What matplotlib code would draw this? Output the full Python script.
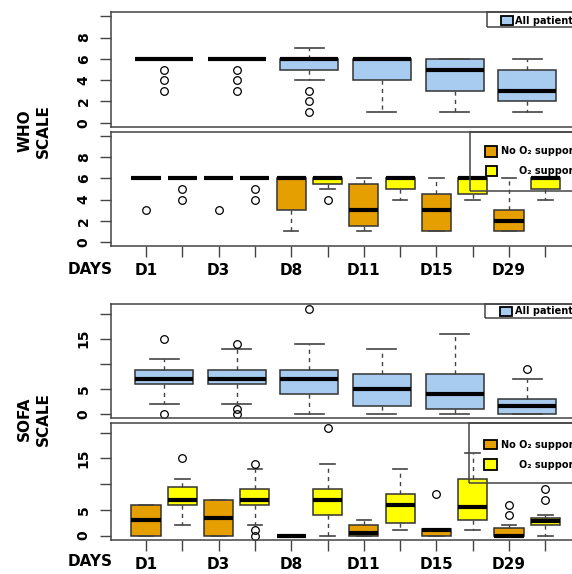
import matplotlib
matplotlib.use("Agg")
import matplotlib.pyplot as plt
from matplotlib.patches import Rectangle
import numpy as np

W, H = 572, 574

days = ["D1", "D3", "D8", "D11", "D15", "D29"]

# WHO scale, all patients
who_all_lo = [6, 6, 4, 1, 1, 1]
who_all_q1 = [6, 6, 5, 4, 3, 2]
who_all_med = [6, 6, 6, 6, 5, 3]
who_all_q3 = [6, 6, 6, 6, 6, 5]
who_all_hi = [6, 6, 7, 6, 6, 6]
who_all_fl = [[5, 4, 3], [5, 4, 3], [3, 2, 1], [], [], []]

# WHO scale, no O2 support
who_no_lo = [6, 6, 1, 1, 1, 1]
who_no_q1 = [6, 6, 3, 1.5, 1, 1]
who_no_med = [6, 6, 6, 3, 3, 2]
who_no_q3 = [6, 6, 6, 5.5, 4.5, 3]
who_no_hi = [6, 6, 6, 6, 6, 6]
who_no_fl = [[3], [3], [], [], [], []]

# WHO scale, O2 support
who_o2_lo = [6, 6, 5, 4, 4, 4]
who_o2_q1 = [6, 6, 5.5, 5, 4.5, 5]
who_o2_med = [6, 6, 6, 6, 6, 6]
who_o2_q3 = [6, 6, 6, 6, 6, 6]
who_o2_hi = [6, 6, 6, 6, 6, 6]
who_o2_fl = [[5, 4], [5, 4], [4], [], [], []]

# SOFA scale, all patients
sofa_all_lo = [2, 2, 0, 0, 0, 0]
sofa_all_q1 = [6, 6, 4, 1.5, 1, 0]
sofa_all_med = [7, 7, 7, 5, 4, 1.5]
sofa_all_q3 = [8.75, 8.75, 8.75, 8, 8, 3]
sofa_all_hi = [11, 13, 14, 13, 16, 7]
sofa_all_fl = [[15, 0], [14, 1, 0], [21], [], [], [9]]

# SOFA scale, no O2 support
sofa_no_lo = [0, 0, 0, 0, 0, 0]
sofa_no_q1 = [0, 0, 0, 0, 0, 0]
sofa_no_med = [3, 3.5, 0, 0.5, 1, 0]
sofa_no_q3 = [6, 7, 0, 2, 1.25, 1.5]
sofa_no_hi = [6, 7, 0, 3, 1.25, 2]
sofa_no_fl = [[], [], [], [], [8], [6, 4]]

# SOFA scale, O2 support
sofa_o2_lo = [2, 2, 0, 1, 1, 0]
sofa_o2_q1 = [6, 6, 4, 2.5, 3, 2]
sofa_o2_med = [7, 7, 7, 6, 5.6, 2.8]
sofa_o2_q3 = [9.5, 9, 9, 8, 11, 3.45]
sofa_o2_hi = [11, 13, 14, 13, 16, 4]
sofa_o2_fl = [[15], [14, 1, 0], [21], [], [], [9, 7]]

who_ticks = [0, 2, 4, 6, 8, 10]
who_labels = ["0", "2", "4", "6", "8", ""]
sofa_ticks = [0, 5, 10, 15, 20]
sofa_labels = ["0", "5", "", "15", ""]

BLUE = "#A8CBF0"
ORANGE = "#E69F00"
YELLOW = "#FFFF00"
FRAME = "#444444"


def fx(x):
    return x / W


def fy(y):
    return 1 - y / H


def make_stats(lo, q1, med, q3, hi, fl):
    return [dict(whislo=a, q1=b, med=c, q3=d, whishi=e, fliers=f)
            for a, b, c, d, e, f in zip(lo, q1, med, q3, hi, fl)]


def draw(ax, st, pos, width, color):
    ax.bxp(st, positions=pos, widths=width, patch_artist=True,
           boxprops=dict(facecolor=color, edgecolor="#333333", linewidth=1.1),
           medianprops=dict(color="black", linewidth=3, solid_capstyle="butt"),
           whiskerprops=dict(color="#444444", linewidth=1, linestyle=(0, (3, 3))),
           capprops=dict(color="#444444", linewidth=1.2),
           flierprops=dict(marker="o", markersize=5.5, markerfacecolor="none",
                           markeredgecolor="black", markeredgewidth=0.9))


def panel(top, bottom):
    left, right = 111, 590
    ax = fig.add_axes([fx(left), fy(bottom), (right - left) / W, (bottom - top) / H])
    unit = 36.3
    x0 = 1 - (146 - left) / unit
    ax.set_xlim(x0, x0 + (right - left) / unit)
    for s in ax.spines.values():
        s.set_color(FRAME)
        s.set_linewidth(1.1)
    ax.tick_params(direction="out", length=8, width=1, color=FRAME)
    ax.tick_params(axis="y", pad=6.5)
    return ax


def yaxis(ax, ticks, labels, lim):
    ax.set_ylim(*lim)
    ax.set_yticks(ticks)
    ax.set_yticklabels(labels, rotation=90, va="center", ha="right",
                       fontsize=10, fontweight="bold")


def xaxis(ax):
    pos = np.arange(1, 2 * len(days) + 1)
    ax.set_xticks(pos)
    lab = []
    for i in range(len(pos)):
        lab.append(days[i // 2] if i % 2 == 0 else "")
    ax.set_xticklabels(lab, fontsize=11, fontweight="bold")
    ax.tick_params(axis="x", pad=4.5)


def legend_box(x0, y0, x1, y1):
    fig.add_artist(Rectangle((fx(x0), fy(y1)), fx(x1) - fx(x0), fy(y0) - fy(y1),
                             transform=fig.transFigure, fill=False,
                             edgecolor=FRAME, linewidth=1.1))


def legend_patch(x0, y0, x1, y1, color):
    fig.add_artist(Rectangle((fx(x0), fy(y1)), fx(x1) - fx(x0), fy(y0) - fy(y1),
                             transform=fig.transFigure, facecolor=color,
                             edgecolor="black", linewidth=1.3))


def legend_text(x, y, s, ha):
    fig.text(fx(x), fy(y), s, ha=ha, va="center", fontsize=7, fontweight="bold")


fig = plt.figure(figsize=(W / 100, H / 100), dpi=100)

grp = np.arange(len(days)) * 2 + 1.5
pos_no = np.arange(len(days)) * 2 + 1
pos_o2 = pos_no + 1

# WHO all patients
ax1 = panel(12, 127)
draw(ax1, make_stats(who_all_lo, who_all_q1, who_all_med, who_all_q3, who_all_hi, who_all_fl),
     grp, 1.6, BLUE)
yaxis(ax1, who_ticks, who_labels, (-0.4, 10.4))
ax1.set_xticks([])

# WHO by O2 support
ax2 = panel(132, 246)
draw(ax2, make_stats(who_no_lo, who_no_q1, who_no_med, who_no_q3, who_no_hi, who_no_fl),
     pos_no, 0.8, ORANGE)
draw(ax2, make_stats(who_o2_lo, who_o2_q1, who_o2_med, who_o2_q3, who_o2_hi, who_o2_fl),
     pos_o2, 0.8, YELLOW)
yaxis(ax2, who_ticks, who_labels, (-0.4, 10.4))
xaxis(ax2)

# SOFA all patients
ax3 = panel(304, 418)
draw(ax3, make_stats(sofa_all_lo, sofa_all_q1, sofa_all_med, sofa_all_q3, sofa_all_hi, sofa_all_fl),
     grp, 1.6, BLUE)
yaxis(ax3, sofa_ticks, sofa_labels, (-0.85, 21.9))
ax3.set_xticks([])

# SOFA by O2 support
ax4 = panel(423, 540)
draw(ax4, make_stats(sofa_no_lo, sofa_no_q1, sofa_no_med, sofa_no_q3, sofa_no_hi, sofa_no_fl),
     pos_no, 0.8, ORANGE)
draw(ax4, make_stats(sofa_o2_lo, sofa_o2_q1, sofa_o2_med, sofa_o2_q3, sofa_o2_hi, sofa_o2_fl),
     pos_o2, 0.8, YELLOW)
yaxis(ax4, sofa_ticks, sofa_labels, (-0.85, 21.9))
xaxis(ax4)

# axis titles
fig.text(fx(34), fy(131), "WHO\nSCALE", rotation=90, ha="center", va="center",
         fontsize=11, fontweight="bold", linespacing=1.3, multialignment="center")
fig.text(fx(34), fy(419), "SOFA\nSCALE", rotation=90, ha="center", va="center",
         fontsize=11, fontweight="bold", linespacing=1.3, multialignment="center")
fig.text(fx(68), fy(270), "DAYS", ha="left", va="center", fontsize=11, fontweight="bold")
fig.text(fx(68), fy(562), "DAYS", ha="left", va="center", fontsize=11, fontweight="bold")

# legends (cut off at the right edge as in the original)
legend_box(487, 12, 600, 27)
legend_patch(501, 16, 513, 25, BLUE)
legend_text(515, 20.5, "All patients", "left")

legend_box(470, 132, 600, 191)
legend_patch(485, 146, 497, 157, ORANGE)
legend_text(578, 151.5, "No O₂ support", "right")
legend_patch(486, 166, 497, 176, YELLOW)
legend_text(578, 171, "O₂ support", "right")

legend_box(485, 304, 600, 318)
legend_patch(500, 307, 512, 316, BLUE)
legend_text(515, 311.5, "All patients", "left")

legend_box(469, 423, 600, 483)
legend_patch(484, 440, 497, 449, ORANGE)
legend_text(578, 444.5, "No O₂ support", "right")
legend_patch(484, 459, 497, 470, YELLOW)
legend_text(578, 464.5, "O₂ support", "right")

fig.savefig("out.png", dpi=100)
